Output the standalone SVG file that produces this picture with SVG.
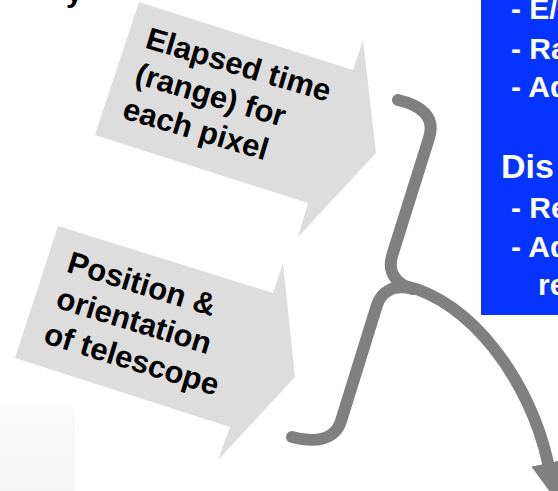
<svg xmlns="http://www.w3.org/2000/svg" width="558" height="491" viewBox="0 0 558 491">
  <defs>
    <style>
      .shape { fill: #DDDDDD; }
      .lbl { font-family: "Liberation Sans", Arial, sans-serif; font-weight: bold; font-size: 31px; fill: #000000; }
      .btxt { font-family: "Liberation Sans", Arial, sans-serif; font-weight: bold; font-size: 30px; fill: #FFFFFF; }
      .conn { fill: none; stroke: #808080; stroke-width: 12; stroke-linecap: round; stroke-linejoin: round; }
    </style>
    <linearGradient id="faint" x1="0" y1="0" x2="0" y2="1">
      <stop offset="0" stop-color="#FAFAFA"/>
      <stop offset="1" stop-color="#F5F5F5"/>
    </linearGradient>
    <marker id="ah" markerUnits="userSpaceOnUse" markerWidth="38" markerHeight="34" viewBox="0 0 38 34" refX="0" refY="17" orient="auto">
      <path d="M0,0 L38,17 L0,34 z" fill="#808080"/>
    </marker>
  </defs>
  <rect width="558" height="491" fill="#FFFFFF"/>

  <g id="heading-fragment">
    <text class="lbl" x="66" y="2" style="font-size:30px">y</text>
  </g>

  <g id="faint-panel">
    <rect x="-6" y="407" width="81" height="90" rx="4" fill="url(#faint)"/>
  </g>

  <g id="input-elapsed-time">
    <polygon class="shape" points="139,2 353,70 363,40 376,153 298,237 308,203 95,135"/>
    <g transform="translate(144 47.5) rotate(16.5)">
      <text class="lbl" x="0" y="0">Elapsed time</text>
      <text class="lbl" x="0" y="37">(range) for</text>
      <text class="lbl" x="-2" y="74">each pixel</text>
    </g>
  </g>

  <g id="input-position">
    <polygon class="shape" points="58,226 273,293 283,263 295,377 218,460 230,427 15,358"/>
    <g transform="translate(65.5 271.5) rotate(17)">
      <text class="lbl" x="0" y="0">Position &amp;</text>
      <text class="lbl" x="0" y="37.5">orientation</text>
      <text class="lbl" x="-1.5" y="75">of telescope</text>
    </g>
  </g>

  <g id="blue-box">
    <rect x="481" y="-10" width="90" height="325" fill="#0534FF"/>
    <text class="btxt" x="511" y="19">- E/</text>
    <text class="btxt" x="511" y="58.5">- Ra</text>
    <text class="btxt" x="511" y="97">- Ad</text>
    <text class="btxt" x="501" y="178" style="font-size:34px">Dis</text>
    <text class="btxt" x="511" y="218">- Re</text>
    <text class="btxt" x="511" y="256.5">- Ad</text>
    <text class="btxt" x="538" y="295">re</text>
  </g>

  <g id="connectors">
    <path class="conn" d="M398 100 C420 105 436 116 429 138 L392 256 C387 274 398 285 413 289"/>
    <path class="conn" d="M413 289 C394 284 382 291 377 305 L341 421 C335 440 315 443 292 437"/>
    <path class="conn" d="M405 286 C470 300 530 380 548 463" marker-end="url(#ah)"/>
  </g>
</svg>
